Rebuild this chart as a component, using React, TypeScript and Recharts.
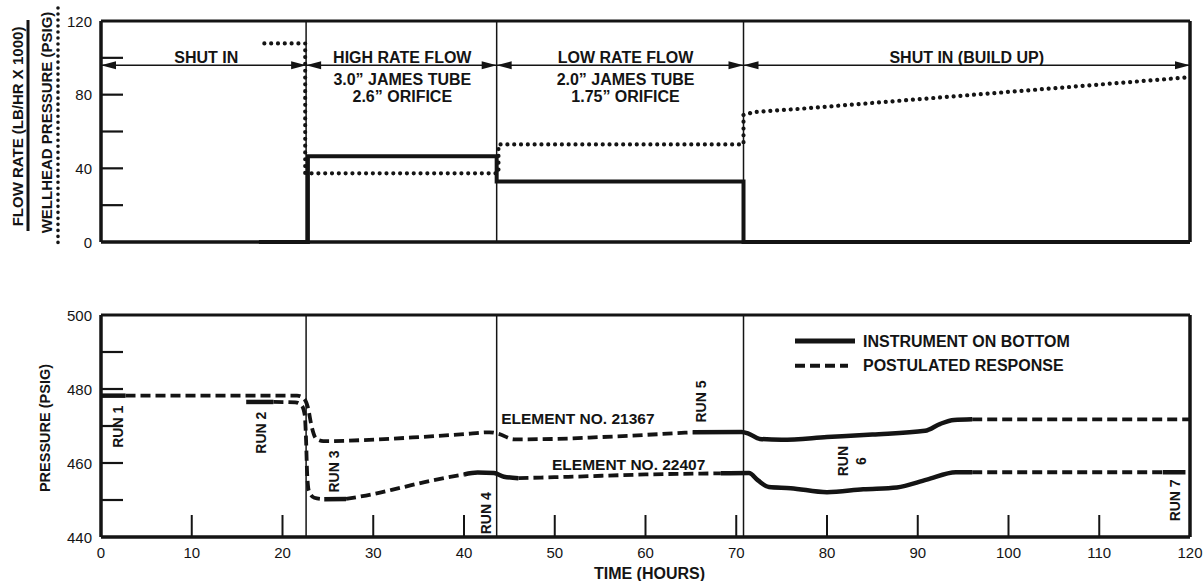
import React from 'react';
import { ComposedChart, Line, XAxis, YAxis, ReferenceLine, Scatter, Legend } from 'recharts';

const FONT = '"Liberation Sans", Arial, Helvetica, sans-serif';
const INK = '#141414';

// ---------- axes ----------
const timeTicks = [0, 10, 20, 30, 40, 50, 60, 70, 80, 90, 100, 110, 120];
const flowTicks = [0, 20, 40, 60, 80, 100, 120];
const flowTickLabels = [0, 40, 80, 120];
const pressureTicks = [440, 450, 460, 470, 480, 490, 500];
const pressureTickLabels = [440, 460, 480, 500];

// ---------- test phases (top panel) ----------
const phaseBoundaries = [0, 22.6, 43.6, 70.8, 120];
const phaseArrowLevel = 96;
const phaseLabels = [
  { t: 11.6, lines: ['SHUT IN'] },
  { t: 33.2, lines: ['HIGH RATE FLOW', '3.0\u201D JAMES TUBE', '2.6\u201D ORIFICE'] },
  { t: 57.8, lines: ['LOW RATE FLOW', '2.0\u201D JAMES TUBE', '1.75\u201D ORIFICE'] },
  { t: 95.4, lines: ['SHUT IN (BUILD UP)'] },
];

// flow rate (lb/hr x 1000)
const flowRate = [
  { t: 17.4, v: 0 }, { t: 22.8, v: 0 }, { t: 22.8, v: 46.5 }, { t: 43.6, v: 46.5 },
  { t: 43.6, v: 32.8 }, { t: 70.8, v: 32.8 }, { t: 70.8, v: 0 }, { t: 120, v: 0 },
];
// wellhead pressure (psig)
const wellheadPressure = [
  { t: 18, v: 107.8 }, { t: 22.5, v: 107.8 }, { t: 22.5, v: 37.3 }, { t: 43.8, v: 37.3 },
  { t: 43.8, v: 53 }, { t: 70.8, v: 53 }, { t: 70.8, v: 69 }, { t: 72, v: 70.6 },
  { t: 77, v: 72.3 }, { t: 120, v: 89.5 },
];

// ---------- bottom panel: element 21367 ----------
const el21367MeasuredRun1 = [{ t: 0, p: 478.2 }, { t: 2.7, p: 478.2 }];
const el21367Postulated1 = [
  { t: 2.7, p: 478.2 }, { t: 21.6, p: 478.2 }, { t: 22.3, p: 477.6 }, { t: 22.8, p: 475 },
  { t: 23.2, p: 470 }, { t: 23.7, p: 466.6 }, { t: 24.5, p: 465.9 }, { t: 29, p: 466.2 },
  { t: 35, p: 467 }, { t: 40, p: 467.8 }, { t: 42.8, p: 468.3 }, { t: 43.8, p: 467.9 },
  { t: 45.5, p: 466.4 }, { t: 50, p: 466.5 }, { t: 55, p: 467 }, { t: 60, p: 467.6 },
  { t: 65.2, p: 468.3 },
];
const el21367Measured2 = [
  { t: 65.2, p: 468.3 }, { t: 70.6, p: 468.4 }, { t: 71.4, p: 467.9 }, { t: 72.6, p: 466.5 },
  { t: 75, p: 466.3 }, { t: 80, p: 467 }, { t: 85, p: 467.7 }, { t: 90.8, p: 468.7 },
  { t: 92.5, p: 470.6 }, { t: 94, p: 471.6 }, { t: 96, p: 471.8 },
];
const el21367Postulated2 = [{ t: 96, p: 471.8 }, { t: 120, p: 471.8 }];

// ---------- bottom panel: element 22407 ----------
const el22407MeasuredRun2 = [{ t: 16, p: 476.5 }, { t: 19, p: 476.5 }];
const el22407Postulated1 = [
  { t: 19, p: 476.5 }, { t: 21.4, p: 476.4 }, { t: 22.1, p: 475.6 }, { t: 22.45, p: 473 },
  { t: 22.6, p: 466 }, { t: 22.7, p: 458 }, { t: 22.9, p: 452.5 }, { t: 23.5, p: 450.6 },
  { t: 24.6, p: 450.2 },
];
const el22407MeasuredRun3 = [{ t: 24.6, p: 450.2 }, { t: 27, p: 450.3 }];
const el22407Postulated2 = [
  { t: 27, p: 450.3 }, { t: 30, p: 451.6 }, { t: 33, p: 453.3 }, { t: 36.5, p: 455.3 },
  { t: 40, p: 456.9 },
];
const el22407MeasuredRun4 = [
  { t: 40, p: 456.9 }, { t: 41.5, p: 457.4 }, { t: 43.3, p: 457.3 }, { t: 44.4, p: 456.3 },
  { t: 46, p: 455.9 },
];
const el22407Postulated3 = [
  { t: 46, p: 455.9 }, { t: 52, p: 456.3 }, { t: 60, p: 456.9 }, { t: 68.3, p: 457.2 },
];
const el22407Measured5 = [
  { t: 68.3, p: 457.2 }, { t: 71.4, p: 457.3 }, { t: 72.4, p: 455.3 }, { t: 73.6, p: 453.5 },
  { t: 76, p: 453.2 }, { t: 80, p: 452.1 }, { t: 84, p: 452.9 }, { t: 87.7, p: 453.4 },
  { t: 91, p: 455.5 }, { t: 94.2, p: 457.5 }, { t: 96, p: 457.5 },
];
const el22407Postulated4 = [{ t: 96, p: 457.5 }, { t: 117, p: 457.5 }];
const el22407MeasuredRun7 = [{ t: 117, p: 457.5 }, { t: 119.5, p: 457.5 }];

const measuredSeries = [
  el21367MeasuredRun1, el21367Measured2,
  el22407MeasuredRun2, el22407MeasuredRun3, el22407MeasuredRun4, el22407Measured5, el22407MeasuredRun7,
];
const postulatedSeries = [
  el21367Postulated1, el21367Postulated2,
  el22407Postulated1, el22407Postulated2, el22407Postulated3, el22407Postulated4,
];

const runLabels = [
  { t: 1.9, p: 469.8, lines: ['RUN 1'] },
  { t: 17.6, p: 468.2, lines: ['RUN 2'] },
  { t: 25.7, p: 457.7, lines: ['RUN 3'] },
  { t: 42.4, p: 446.4, lines: ['RUN 4'] },
  { t: 66.1, p: 476.6, lines: ['RUN 5'] },
  { t: 82.8, p: 460.5, lines: ['RUN', '6'] },
  { t: 118.3, p: 449.9, lines: ['RUN 7'] },
];
const elementLabels = [
  { t: 44.1, p: 472.0, text: 'ELEMENT NO. 21367' },
  { t: 49.7, p: 459.7, text: 'ELEMENT NO. 22407' },
];
const legendItems = [
  { name: 'INSTRUMENT ON BOTTOM', dashed: false },
  { name: 'POSTULATED RESPONSE', dashed: true },
];

// ---------- renderers ----------
const makeLeftTick = (labels: number[], inner: number[]) => (props: any) => {
  const { x, y, payload } = props;
  const v = payload.value;
  return (
    <g>
      {inner.includes(v) && <line x1={x} x2={x + 22} y1={y} y2={y} stroke={INK} strokeWidth={2.2} />}
      {labels.includes(v) && (
        <text x={x - 9} y={y} textAnchor="end" dominantBaseline="central" fontFamily={FONT} fontSize={15} fill={INK}>
          {v}
        </text>
      )}
    </g>
  );
};
const makeRightTick = (inner: number[]) => (props: any) => {
  const { x, y, payload } = props;
  return inner.includes(payload.value) ? (
    <line x1={x} x2={x - 22} y1={y} y2={y} stroke={INK} strokeWidth={2.2} />
  ) : (
    <g />
  );
};
const BottomTick = (props: any) => {
  const { x, y, payload } = props;
  const v = payload.value;
  const inner = v !== 0 && v !== 120;
  return (
    <g>
      {inner && <line x1={x} x2={x} y1={y} y2={y - 22} stroke={INK} strokeWidth={2} />}
      <text x={x} y={y + 15} textAnchor="middle" dominantBaseline="central" fontFamily={FONT} fontSize={15} fill={INK}>
        {v}
      </text>
    </g>
  );
};

const ArrowDot = (props: any) => {
  const { cx, cy, index } = props;
  const last = phaseBoundaries.length - 1;
  const L = 15;
  const H = 4;
  return (
    <g key={`arr-${index}`}>
      {index > 0 && <polygon points={`${cx},${cy} ${cx - L},${cy - H} ${cx - L},${cy + H}`} fill={INK} />}
      {index < last && <polygon points={`${cx},${cy} ${cx + L},${cy - H} ${cx + L},${cy + H}`} fill={INK} />}
    </g>
  );
};

const PhaseLabelShape = (props: any) => {
  const { cx, cy, payload } = props;
  const offs = [-8, 14, 31];
  return (
    <g>
      {payload.lines.map((s: string, i: number) => (
        <text key={i} x={cx} y={cy + offs[i]} textAnchor="middle" dominantBaseline="central"
          fontFamily={FONT} fontWeight="bold" fontSize={16} fill={INK}>
          {s}
        </text>
      ))}
    </g>
  );
};

const RunLabelShape = (props: any) => {
  const { cx, cy, payload } = props;
  const n = payload.lines.length;
  return (
    <g transform={`translate(${cx},${cy}) rotate(-90)`}>
      {payload.lines.map((s: string, i: number) => (
        <text key={i} x={0} y={(i - (n - 1) / 2) * 18} textAnchor="middle" dominantBaseline="central"
          fontFamily={FONT} fontWeight="bold" fontSize={14} fill={INK}>
          {s}
        </text>
      ))}
    </g>
  );
};

const ElementLabelShape = (props: any) => {
  const { cx, cy, payload } = props;
  return (
    <text x={cx} y={cy} textAnchor="start" dominantBaseline="central" fontFamily={FONT}
      fontWeight="bold" fontSize={15.5} fill={INK}>
      {payload.text}
    </text>
  );
};

const TopAxisTitle = (props: any) => {
  const vb = props.viewBox || { x: 100, y: 21, width: 1, height: 221 };
  const ax = vb.x + vb.width;
  const cy = vb.y + vb.height / 2 - 6;
  return (
    <g>
      <text transform={`translate(${ax - 84},${cy + 1}) rotate(-90)`} textAnchor="middle" dominantBaseline="central"
        fontFamily={FONT} fontWeight="bold" fontSize={15} fill={INK}>
        FLOW RATE (LB/HR X 1000)
      </text>
      <line x1={ax - 73} x2={ax - 73} y1={vb.y - 1} y2={vb.y + 210} stroke={INK} strokeWidth={3} />
      <text transform={`translate(${ax - 55},${cy - 3}) rotate(-90)`} textAnchor="middle" dominantBaseline="central"
        fontFamily={FONT} fontWeight="bold" fontSize={15} fill={INK}>
        WELLHEAD PRESSURE (PSIG)
      </text>
      <line x1={ax - 43} x2={ax - 43} y1={vb.y - 13} y2={vb.y + 227} stroke={INK} strokeWidth={3.6}
        strokeDasharray="0.01 6" strokeLinecap="round" />
    </g>
  );
};

const BottomAxisTitle = (props: any) => {
  const vb = props.viewBox || { x: 100, y: 53, width: 1, height: 222 };
  const ax = vb.x + vb.width;
  const cy = vb.y + vb.height / 2 + 2;
  return (
    <text transform={`translate(${ax - 56},${cy}) rotate(-90)`} textAnchor="middle" dominantBaseline="central"
      fontFamily={FONT} fontWeight="bold" fontSize={14.5} fill={INK}>
      PRESSURE (PSIG)
    </text>
  );
};

const TimeTitle = (props: any) => {
  const vb = props.viewBox || { x: 101, y: 275, width: 1089, height: 1 };
  return (
    <text x={vb.x + vb.width / 2 + 4} y={vb.y + 36} textAnchor="middle" dominantBaseline="central"
      fontFamily={FONT} fontWeight="bold" fontSize={16} fill={INK}>
      TIME (HOURS)
    </text>
  );
};

const LegendBox = () => (
  <svg width={330} height={48} style={{ display: 'block', overflow: 'visible' }}>
    {legendItems.map((it, i) => {
      const y = 11 + i * 24.7;
      return (
        <g key={it.name}>
          <line x1={5} x2={it.dashed ? 58 : 65} y1={y} y2={y} stroke={INK} strokeWidth={it.dashed ? 4 : 5}
            strokeDasharray={it.dashed ? '10 5' : undefined} />
          <text x={73} y={y} dominantBaseline="central" fontFamily={FONT} fontWeight="bold" fontSize={16} fill={INK}>
            {it.name}
          </text>
        </g>
      );
    })}
  </svg>
);

const axisLineStyle = { stroke: INK, strokeWidth: 3 };

export default function App() {
  const arrowData = phaseBoundaries.map((b) => ({ t: b, v: phaseArrowLevel }));
  const phaseLabelData = phaseLabels.map((p) => ({ t: p.t, v: phaseArrowLevel, lines: p.lines }));
  const innerBoundaries = phaseBoundaries.slice(1, -1);
  return (
    <div style={{ position: 'absolute', left: 0, top: 0, width: 1203, height: 581, background: '#fff' }}>
      <div style={{ position: 'absolute', left: 0, top: 0 }}>
        <ComposedChart width={1203} height={262} margin={{ top: 21, right: 12, bottom: 19, left: 100 }}>
          <XAxis dataKey="t" type="number" domain={[0, 120]} ticks={[0, 120]} tick={false} tickLine={false}
            axisLine={axisLineStyle} height={1} />
          <YAxis type="number" domain={[0, 120]} ticks={flowTicks} interval={0} width={1} tickSize={0} tickMargin={0}
            tickLine={false} axisLine={axisLineStyle} tick={makeLeftTick(flowTickLabels, [20, 40, 60, 80, 100])}
            label={TopAxisTitle} />
          <YAxis yAxisId="r" orientation="right" type="number" domain={[0, 120]} ticks={flowTicks} interval={0}
            width={1} tickSize={0} tickMargin={0} tickLine={false} axisLine={axisLineStyle}
            tick={makeRightTick([20, 40, 60, 80, 100])} />
          <ReferenceLine y={120} stroke={INK} strokeWidth={3} />
          <ReferenceLine y={0} stroke={INK} strokeWidth={3} />
          <ReferenceLine x={0} stroke={INK} strokeWidth={3} />
          <ReferenceLine x={120} stroke={INK} strokeWidth={3} />
          {innerBoundaries.map((b) => (
            <ReferenceLine key={b} x={b} stroke={INK} strokeWidth={1.5} />
          ))}
          <Line data={arrowData} dataKey="v" type="linear" stroke={INK} strokeWidth={1.5} dot={ArrowDot}
            activeDot={false} isAnimationActive={false} />
          <Scatter data={phaseLabelData} dataKey="v" shape={PhaseLabelShape} isAnimationActive={false} />
          <Line data={flowRate} dataKey="v" type="linear" stroke={INK} strokeWidth={4} dot={false}
            activeDot={false} isAnimationActive={false} />
          <Line data={wellheadPressure} dataKey="v" type="linear" stroke={INK} strokeWidth={4.2}
            strokeDasharray="0.01 6.8" strokeLinecap="round" dot={false} activeDot={false} isAnimationActive={false} />
        </ComposedChart>
      </div>
      <div style={{ position: 'absolute', left: 0, top: 262 }}>
        <ComposedChart width={1203} height={319} margin={{ top: 53, right: 12, bottom: 43, left: 100 }}>
          <XAxis dataKey="t" type="number" domain={[0, 120]} ticks={timeTicks} interval={0} height={1}
            tickSize={0} tickMargin={0} tickLine={false} axisLine={axisLineStyle} tick={BottomTick}
            label={TimeTitle} />
          <YAxis type="number" domain={[440, 500]} ticks={pressureTicks} interval={0} width={1} tickSize={0}
            tickMargin={0} tickLine={false} axisLine={axisLineStyle}
            tick={makeLeftTick(pressureTickLabels, [450, 460, 470, 480, 490])} label={BottomAxisTitle} />
          <YAxis yAxisId="r" orientation="right" type="number" domain={[440, 500]} ticks={pressureTicks}
            interval={0} width={1} tickSize={0} tickMargin={0} tickLine={false} axisLine={axisLineStyle}
            tick={makeRightTick([450, 460, 470, 480, 490])} />
          <ReferenceLine y={500} stroke={INK} strokeWidth={3} />
          <ReferenceLine y={440} stroke={INK} strokeWidth={3} />
          <ReferenceLine x={0} stroke={INK} strokeWidth={3} />
          <ReferenceLine x={120} stroke={INK} strokeWidth={3} />
          {innerBoundaries.map((b) => (
            <ReferenceLine key={b} x={b} stroke={INK} strokeWidth={1.5} />
          ))}
          {postulatedSeries.map((d, i) => (
            <Line key={`p${i}`} data={d} dataKey="p" type="monotone" stroke={INK} strokeWidth={3.8}
              strokeDasharray="10 5" dot={false} activeDot={false} isAnimationActive={false} />
          ))}
          {measuredSeries.map((d, i) => (
            <Line key={`m${i}`} data={d} dataKey="p" type="monotone" stroke={INK} strokeWidth={4.5}
              dot={false} activeDot={false} isAnimationActive={false} />
          ))}
          <Scatter data={runLabels} dataKey="p" shape={RunLabelShape} isAnimationActive={false} />
          <Scatter data={elementLabels} dataKey="p" shape={ElementLabelShape} isAnimationActive={false} />
          <Legend layout="vertical" align="center" verticalAlign="middle" content={LegendBox}
            wrapperStyle={{ left: 790, top: 68, width: 330, height: 48 }} />
        </ComposedChart>
      </div>
    </div>
  );
}
